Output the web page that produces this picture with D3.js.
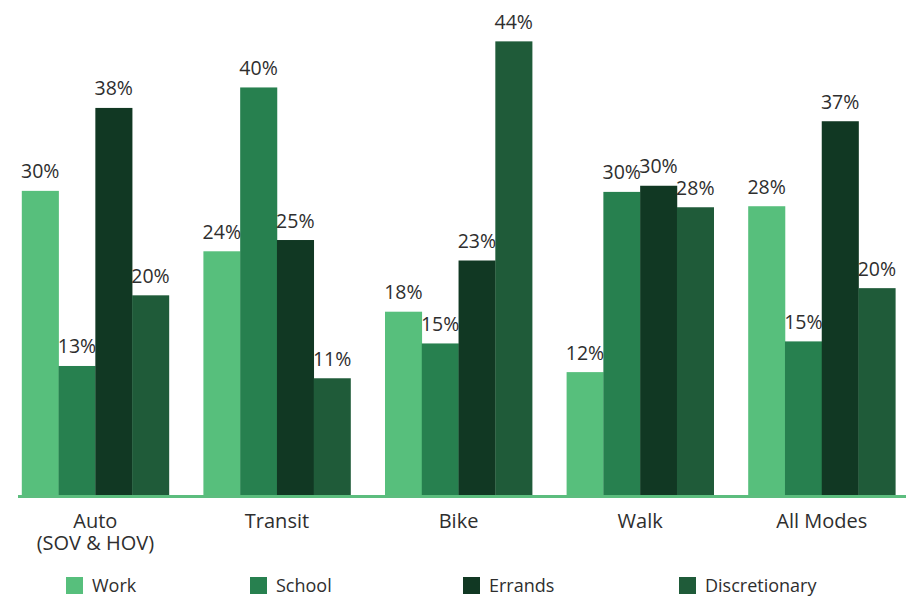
<!DOCTYPE html>
<html>
<head>
<meta charset="utf-8">
<script src="https://cdn.jsdelivr.net/npm/d3@7"></script>
<style>
  html, body { margin: 0; padding: 0; background: #ffffff; }
  svg { display: block; font-family: "Open Sans", "Noto Sans", sans-serif; }
</style>
</head>
<body>
<svg id="chart" width="917" height="596"></svg>
<script>
// ---- data ----
const categories = ["Auto\n(SOV & HOV)", "Transit", "Bike", "Walk", "All Modes"];
const seriesNames = ["Work", "School", "Errands", "Discretionary"];
const workValues = [29.7, 23.8, 17.9, 12.0, 28.2];
const schoolValues = [12.6, 39.8, 14.8, 29.6, 15.0];
const errandsValues = [37.8, 24.9, 22.9, 30.2, 36.5];
const discretionaryValues = [19.5, 11.4, 44.3, 28.1, 20.2];
const seriesColors = ["#57bf7c", "#27804f", "#113823", "#1f5b39"];

const seriesValues = [workValues, schoolValues, errandsValues, discretionaryValues];
const rows = categories.map((c, i) => ({
  category: c,
  values: seriesNames.map((s, j) => ({ series: s, value: seriesValues[j][i] }))
}));

// ---- layout ----
const svg = d3.select("#chart");
const baseline = 495;
const pxPerUnit = 10.24;

const x0 = d3.scaleBand()
  .domain(categories)
  .range([21.8, 895.3])
  .paddingInner(0.19)
  .paddingOuter(0);

const x1 = d3.scaleBand()
  .domain(seriesNames)
  .range([0, x0.bandwidth()])
  .padding(0);

const y = d3.scaleLinear()
  .domain([0, 44])
  .range([baseline, baseline - 44 * pxPerUnit]);

const color = d3.scaleOrdinal().domain(seriesNames).range(seriesColors);

// ---- bars ----
const groups = svg.append("g")
  .selectAll("g")
  .data(rows)
  .join("g")
  .attr("transform", d => `translate(${x0(d.category)},0)`);

groups.selectAll("rect")
  .data(d => d.values)
  .join("rect")
  .attr("x", d => x1(d.series))
  .attr("y", d => y(d.value))
  .attr("width", x1.bandwidth() + 0.3)
  .attr("height", d => baseline - y(d.value))
  .attr("fill", d => color(d.series));

groups.selectAll("text.val")
  .data(d => d.values)
  .join("text")
  .attr("class", "val")
  .attr("x", d => x1(d.series) + x1.bandwidth() / 2)
  .attr("y", d => y(d.value) - 12.5)
  .attr("text-anchor", "middle")
  .attr("font-size", 19.5)
  .attr("fill", "#2e2e2e")
  .text(d => Math.round(d.value) + "%");

// ---- axis line ----
svg.append("line")
  .attr("x1", 18).attr("x2", 906)
  .attr("y1", baseline + 1.5).attr("y2", baseline + 1.5)
  .attr("stroke", "#5cbd7e")
  .attr("stroke-width", 3);

// ---- category labels ----
const xAxis = d3.axisBottom(x0).tickSize(0).tickPadding(0);
const axisG = svg.append("g")
  .attr("transform", `translate(0,${baseline})`)
  .call(xAxis);
axisG.select(".domain").remove();
axisG.selectAll(".tick text").each(function(d) {
  const t = d3.select(this);
  t.text(null)
    .attr("y", 0)
    .attr("dy", null)
    .attr("font-size", 20)
    .attr("font-family", "\"Open Sans\", \"Noto Sans\", sans-serif")
    .attr("fill", "#2e2e2e");
  d.split("\n").forEach((line, i) => {
    t.append("tspan")
      .attr("x", 0)
      .attr("y", 33 + i * 22)
      .text(line);
  });
});

// ---- legend ----
const legendX = [66, 250, 463, 679];
const legend = svg.append("g")
  .selectAll("g")
  .data(seriesNames)
  .join("g")
  .attr("transform", (d, i) => `translate(${legendX[i]},577)`);
legend.append("rect")
  .attr("width", 17).attr("height", 17)
  .attr("fill", d => color(d));
legend.append("text")
  .attr("x", 26)
  .attr("y", 15)
  .attr("font-size", 18)
  .attr("fill", "#2e2e2e")
  .text(d => d);
</script>
</body>
</html>
